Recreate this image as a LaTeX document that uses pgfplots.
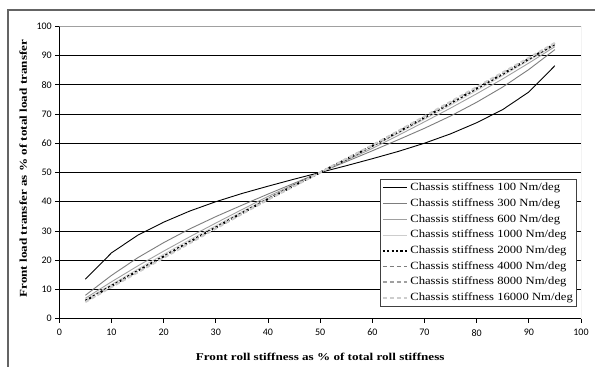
\documentclass[border=0pt]{standalone}
\usepackage{fontspec}
\setmainfont{Liberation Serif}
\newfontfamily\carlito{Carlito}
\newfontfamily\labfont[FakeStretch=1.25]{Liberation Serif}
\newfontfamily\legfont[FakeStretch=1.15]{Liberation Serif}
\usepackage{pgfplots}
\pgfplotsset{compat=1.18}
\definecolor{frameg}{RGB}{100,100,100}
\definecolor{gA}{RGB}{125,125,125}
\definecolor{gB}{RGB}{160,160,160}
\definecolor{gC}{RGB}{205,205,205}
\definecolor{legdraw}{RGB}{64,64,64}
\begin{document}
\begin{tikzpicture}[x=1pt,y=1pt]
\useasboundingbox (0,0) rectangle (595,367);
\fill[white] (0,0) rectangle (595,367);
\draw[frameg, line width=1.2pt] (8,-2) -- (8,357) -- (597,357);
\begin{axis}[
  at={(59.3pt,48.3pt)}, anchor=south west,
  scale only axis, width=521.7pt, height=292.5pt,
  xmin=0, xmax=100, ymin=0, ymax=100,
  xtick={0,10,...,100}, ytick={0,10,...,100},
  axis x line*=bottom, axis y line*=left,
  axis line style={-, black, line width=0.8pt},
  x axis line style={-}, y axis line style={-},
  tick align=outside, major tick length=4pt,
  tick style={black, line width=0.8pt},
  ymajorgrids, major grid style={black, line width=0.8pt},
  /pgf/number format/assume math mode=true,
  ticklabel style={font=\carlito\fontsize{10}{12}\selectfont},
  xticklabel style={yshift=-3pt},
  xlabel={Front roll stiffness as \% of total roll stiffness},
  ylabel={Front load transfer as \% of total load transfer},
  label style={font=\labfont\bfseries\fontsize{10.5}{12}\selectfont},
  xlabel style={at={(axis description cs:0.5,-0.13)}, anchor=center},
  ylabel style={at={(axis description cs:-0.069,0.513)}, anchor=center},
  legend style={at={(0.992,0.04)}, anchor=south east, draw=legdraw, line width=0.8pt,
    fill=white, font=\legfont\fontsize{11}{12}\selectfont, row sep=0pt, inner sep=1pt,
    nodes={text height=8pt, text depth=2.5pt, inner sep=2.6pt}},
  legend cell align=left,
  legend image code/.code={\draw[#1] (0pt,0pt) -- (24pt,0pt);},
]
\addplot[black, line width=0.9pt] coordinates {(5,13.5)(10,22.5)(15,28.5)(20,33.0)(25,36.8)(30,40.0)(35,42.8)(40,45.3)(45,47.7)(50,50)(55,52.3)(60,54.7)(65,57.2)(70,60.0)(75,63.2)(80,67.0)(85,71.5)(90,77.5)(95,86.5)};
\addlegendentry{Chassis stiffness 100 Nm/deg}
\addplot[gA, line width=0.9pt] coordinates {(5,8.0)(10,14.8)(15,20.8)(20,26.0)(25,30.7)(30,34.9)(35,38.8)(40,42.6)(45,46.3)(50,50)(55,53.7)(60,57.4)(65,61.2)(70,65.1)(75,69.3)(80,74.0)(85,79.2)(90,85.2)(95,92.0)};
\addlegendentry{Chassis stiffness 300 Nm/deg}
\addplot[gB, line width=0.9pt] coordinates {(5,7.0)(10,12.6)(15,18.0)(20,23.1)(25,28.0)(30,32.7)(35,37.3)(40,41.8)(45,45.9)(50,50)(55,54.1)(60,58.2)(65,62.7)(70,67.3)(75,72.0)(80,76.9)(85,82.0)(90,87.4)(95,93.0)};
\addlegendentry{Chassis stiffness 600 Nm/deg}
\addplot[gC, line width=0.9pt] coordinates {(5,6.5)(10,11.7)(15,16.9)(20,22.0)(25,27.0)(30,31.8)(35,36.6)(40,41.2)(45,45.6)(50,50)(55,54.4)(60,58.8)(65,63.4)(70,68.2)(75,73.0)(80,78.0)(85,83.1)(90,88.3)(95,93.5)};
\addlegendentry{Chassis stiffness 1000 Nm/deg}
\addplot[black, line width=2pt, dash pattern=on 2.2pt off 2.2pt] coordinates {(5,6.1)(10,11.2)(15,16.3)(20,21.3)(25,26.3)(30,31.2)(35,36.1)(40,40.9)(45,45.5)(50,50)(55,54.5)(60,59.1)(65,63.9)(70,68.8)(75,73.7)(80,78.7)(85,83.7)(90,88.8)(95,93.9)};
\addlegendentry{Chassis stiffness 2000 Nm/deg}
\addplot[gA, line width=1.2pt, dash pattern=on 4pt off 3pt] coordinates {(5,5.9)(10,11.0)(15,16.0)(20,21.0)(25,26.0)(30,31.0)(35,35.9)(40,40.8)(45,45.4)(50,50)(55,54.6)(60,59.2)(65,64.1)(70,69.0)(75,74.0)(80,79.0)(85,84.0)(90,89.0)(95,94.1)};
\addlegendentry{Chassis stiffness 4000 Nm/deg}
\addplot[gB, line width=1.2pt, dash pattern=on 4pt off 3pt] coordinates {(5,5.8)(10,10.9)(15,15.9)(20,20.9)(25,25.9)(30,30.9)(35,35.8)(40,40.7)(45,45.4)(50,50)(55,54.6)(60,59.3)(65,64.2)(70,69.1)(75,74.1)(80,79.1)(85,84.1)(90,89.1)(95,94.2)};
\addlegendentry{Chassis stiffness 8000 Nm/deg}
\addplot[gC, line width=2pt, dash pattern=on 4pt off 3pt] coordinates {(5,5.7)(10,10.8)(15,15.8)(20,20.8)(25,25.8)(30,30.8)(35,35.8)(40,40.7)(45,45.3)(50,50)(55,54.7)(60,59.3)(65,64.2)(70,69.2)(75,74.2)(80,79.2)(85,84.2)(90,89.2)(95,94.3)};
\addlegendentry{Chassis stiffness 16000 Nm/deg}
\draw[gB, line width=0.9pt] (rel axis cs:0,1) -- (rel axis cs:1,1) -- (rel axis cs:1,0);
\end{axis}
\end{tikzpicture}
\end{document}
